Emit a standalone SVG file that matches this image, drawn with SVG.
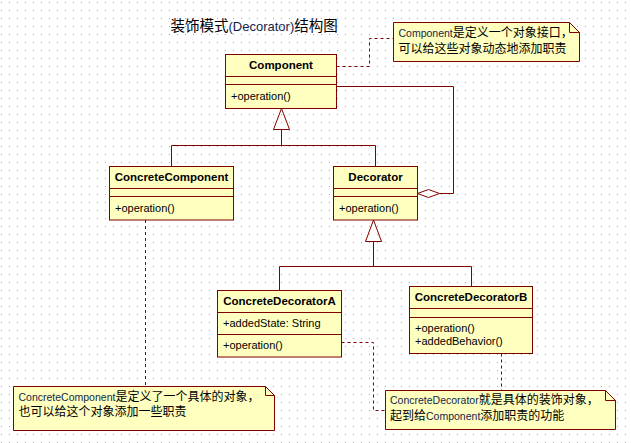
<svg xmlns="http://www.w3.org/2000/svg" width="631" height="443" viewBox="0 0 631 443">
<defs>
<pattern id="grid" patternUnits="userSpaceOnUse" width="8" height="8">
<rect x="1" y="2" width="1" height="1" fill="#a8a8a8"/>
</pattern>
</defs>
<style>
.box{fill:#ffffc0;stroke:#800000;stroke-width:1}
.div{stroke:#800000;stroke-width:1;fill:none}
.ln{stroke:#800000;stroke-width:1;fill:none}
.dash{stroke:#800000;stroke-width:1;fill:none;stroke-dasharray:3,3}
.tri{stroke:#800000;stroke-width:1;fill:none}
.dia{stroke:#800000;stroke-width:1;fill:#ffffff}
.note{fill:#ffffc0;stroke:#800000;stroke-width:1}
.ttl{font-family:"Liberation Sans","Noto Sans CJK SC",sans-serif;font-size:11.5px;font-weight:bold;fill:#000;text-anchor:middle}
.mem{font-family:"Liberation Sans","Noto Sans CJK SC",sans-serif;font-size:11px;fill:#000}
.nt{font-family:"Liberation Sans","Noto Sans CJK SC",sans-serif;font-size:12px;fill:#000}
.lat{fill:#141f4a;font-size:10.5px}
.title{font-family:"Liberation Sans","Noto Sans CJK SC",sans-serif;font-size:14.5px;fill:#000}
.tlat{fill:#141f4a;font-size:13px}
</style>
<rect x="0" y="0" width="631" height="443" fill="#ffffff"/>
<rect x="0" y="0" width="631" height="443" fill="url(#grid)"/>

<text class="title" x="170.5" y="31">装饰模式<tspan class="tlat">(Decorator)</tspan>结构图</text>

<g id="connectors">
<polygon class="tri" points="281.5,108.5 273.5,129.5 289.5,129.5"/>
<polyline class="ln" points="281.5,129.5 281.5,145.5"/>
<polyline class="ln" points="171.5,166.5 171.5,145.5 375.5,145.5 375.5,166.5"/>
<polyline class="ln" points="336.5,86.5 453.5,86.5 453.5,193.5 439.5,193.5"/>
<polygon class="dia" points="417.5,193.5 428.5,189.5 439.5,193.5 428.5,197.5"/>
<polygon class="tri" points="373.5,220 365.5,241.5 381.5,241.5"/>
<polyline class="ln" points="373.5,241.5 373.5,266.5"/>
<polyline class="ln" points="279.5,290.5 279.5,266.5 471.5,266.5 471.5,286.5"/>
<polyline class="dash" points="336.5,66.5 369.5,66.5 369.5,38.5 393.5,38.5"/>
<polyline class="dash" points="145.5,220 145.5,386.5"/>
<polyline class="dash" points="341.5,342.5 373.5,342.5 373.5,410.5 385.5,410.5"/>
<polyline class="dash" points="501.5,353.5 501.5,390.5"/>
</g>

<g id="Component">
<rect class="box" x="225.5" y="54.5" width="111" height="54"/>
<path class="div" d="M225.5,76.5H336.5M225.5,84.5H336.5"/>
<text class="ttl" x="281" y="69">Component</text>
<text class="mem" x="231" y="100">+operation()</text>
</g>

<g id="ConcreteComponent">
<rect class="box" x="109.5" y="166.5" width="124" height="53.5"/>
<path class="div" d="M109.5,188.5H233.5M109.5,196.5H233.5"/>
<text class="ttl" x="171.5" y="181">ConcreteComponent</text>
<text class="mem" x="115" y="212">+operation()</text>
</g>

<g id="Decorator">
<rect class="box" x="333.5" y="166.5" width="84" height="53.5"/>
<path class="div" d="M333.5,188.5H417.5M333.5,196.5H417.5"/>
<text class="ttl" x="375.5" y="181">Decorator</text>
<text class="mem" x="339" y="212">+operation()</text>
</g>

<g id="ConcreteDecoratorA">
<rect class="box" x="217.5" y="290.5" width="124" height="66.5"/>
<path class="div" d="M217.5,312.5H341.5M217.5,334.5H341.5"/>
<text class="ttl" x="279.5" y="305">ConcreteDecoratorA</text>
<text class="mem" x="223" y="326.5">+addedState: String</text>
<text class="mem" x="223" y="349">+operation()</text>
</g>

<g id="ConcreteDecoratorB">
<rect class="box" x="409.5" y="286.5" width="123" height="67"/>
<path class="div" d="M409.5,308.5H532.5M409.5,317.5H532.5"/>
<text class="ttl" x="471" y="301">ConcreteDecoratorB</text>
<text class="mem" x="415" y="332">+operation()</text>
<text class="mem" x="415" y="344.5">+addedBehavior()</text>
</g>

<g id="note-component">
<path class="note" d="M393.5,22.5H569.5L579.5,32.5V61.5H393.5Z"/>
<path class="div" d="M569.5,22.5V32.5H579.5"/>
<text class="nt" x="398.5" y="37"><tspan class="lat">Component</tspan>是定义一个对象接口，</text>
<text class="nt" x="398.5" y="52.5">可以给这些对象动态地添加职责</text>
</g>

<g id="note-concretecomponent">
<path class="note" d="M13.5,386.5H265.5L274.5,395.5V430.5H13.5Z"/>
<path class="div" d="M265.5,386.5V395.5H274.5"/>
<text class="nt" x="18.5" y="400.5"><tspan class="lat">ConcreteComponent</tspan>是定义了一个具体的对象，</text>
<text class="nt" x="18.5" y="416">也可以给这个对象添加一些职责</text>
</g>

<g id="note-concretedecorator">
<path class="note" d="M385.5,390.5H605.5L615.5,400.5V429.5H385.5Z"/>
<path class="div" d="M605.5,390.5V400.5H615.5"/>
<text class="nt" x="390" y="404"><tspan class="lat">ConcreteDecorator</tspan>就是具体的装饰对象，</text>
<text class="nt" x="390" y="419.5">起到给<tspan class="lat">Component</tspan>添加职责的功能</text>
</g>
</svg>
